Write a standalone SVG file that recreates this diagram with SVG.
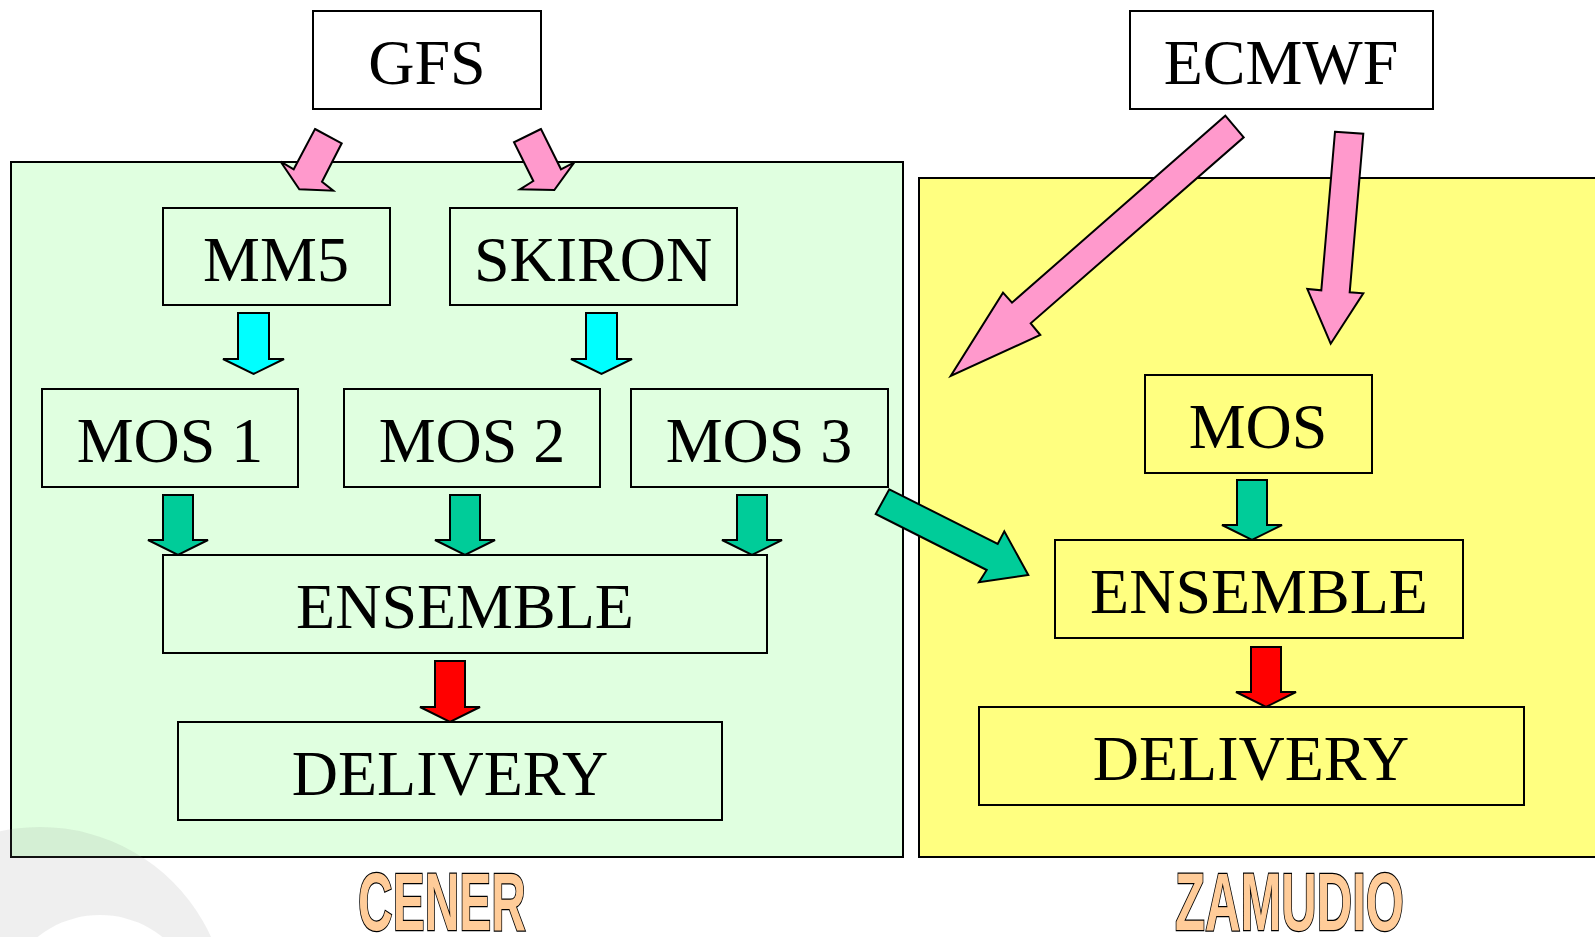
<svg xmlns="http://www.w3.org/2000/svg" width="1595" height="937" viewBox="0 0 1595 937">
<style>
.box{fill:none;stroke:#000;stroke-width:2}
.wbox{fill:#fff;stroke:#000;stroke-width:2}
.lbl{font-family:"Liberation Serif","Times New Roman",serif;font-size:64px;fill:#000;text-anchor:middle}
.big{font-family:"Liberation Sans",Arial,sans-serif;font-weight:bold;font-size:82px;fill:#FFCC99;stroke:#000;stroke-width:2.5;paint-order:stroke fill;text-anchor:start}
.ar{stroke:#000;stroke-width:2;stroke-linejoin:miter}
.pink{fill:#FF99CC}
.cyan{fill:#00FFFF}
.teal{fill:#00CC99}
.red{fill:#FF0000}
</style>
<rect width="1595" height="937" fill="#fff"/>
<g id="region-cener">
<rect x="11" y="162" width="892" height="695" fill="#E0FFE0" stroke="#000" stroke-width="2"/>
</g>
<g id="region-zamudio">
<rect x="919" y="178" width="690" height="679" fill="#FFFF80" stroke="#000" stroke-width="2"/>
</g>
<path id="watermark" d="M40,827 a188,188 0 1,0 0.01,0 Z M100,915 a100,100 0 1,1 -0.01,0 Z" fill="#808080" fill-opacity="0.13" fill-rule="evenodd"/>
<g id="gfs"><rect class="wbox" x="313" y="11" width="228" height="98"/><text class="lbl" x="427" y="84">GFS</text></g>
<g id="ecmwf"><rect class="wbox" x="1130" y="11" width="303" height="98"/><text class="lbl" x="1281" y="84">ECMWF</text></g>
<g id="mm5"><rect class="box" x="163" y="208" width="227" height="97"/><text class="lbl" x="276" y="281">MM5</text></g>
<g id="skiron"><rect class="box" x="450" y="208" width="287" height="97"/><text class="lbl" x="593" y="281">SKIRON</text></g>
<g id="mos1"><rect class="box" x="42" y="389" width="256" height="98"/><text class="lbl" x="170" y="462">MOS 1</text></g>
<g id="mos2"><rect class="box" x="344" y="389" width="256" height="98"/><text class="lbl" x="472" y="462">MOS 2</text></g>
<g id="mos3"><rect class="box" x="631" y="389" width="257" height="98"/><text class="lbl" x="759" y="462">MOS 3</text></g>
<g id="ensemble-cener"><rect class="box" x="163" y="555" width="604" height="98"/><text class="lbl" x="465" y="628">ENSEMBLE</text></g>
<g id="delivery-cener"><rect class="box" x="178" y="722" width="544" height="98"/><text class="lbl" x="450" y="795">DELIVERY</text></g>
<g id="mos-zamudio"><rect class="box" x="1145" y="375" width="227" height="98"/><text class="lbl" x="1258" y="448">MOS</text></g>
<g id="ensemble-zamudio"><rect class="box" x="1055" y="540" width="408" height="98"/><text class="lbl" x="1259" y="613">ENSEMBLE</text></g>
<g id="delivery-zamudio"><rect class="box" x="979" y="707" width="545" height="98"/><text class="lbl" x="1251" y="780">DELIVERY</text></g>
<g id="label-cener"><text class="big" x="358" y="930" textLength="168" lengthAdjust="spacingAndGlyphs">CENER</text></g>
<g id="label-zamudio"><text class="big" x="1175" y="930" textLength="229" lengthAdjust="spacingAndGlyphs">ZAMUDIO</text></g>
<g id="connectors">
<polygon class="ar pink" points="315,129 341.7,143.3 322,181.7 333.3,190.7 299.3,189.3 280.7,161.7 293.7,169.3"/>
<polygon class="ar pink" points="541,129 514,142.3 533.3,181 520,189.3 554.3,190 574.3,162.3 561,169.3"/>
<polygon class="ar pink" points="1225.3,115.7 1243.7,137.3 1030.7,323.3 1040.3,335 950.7,376 1003,292.7 1012,302.7"/>
<polygon class="ar pink" points="1335,131.7 1363.3,133.7 1349.7,292.3 1363.3,293.3 1330.7,343.7 1307.3,289 1321.3,290.3"/>
<polygon class="ar cyan" points="238,313 269,313 269,359 284,359 253.5,374 223,359 238,359"/>
<polygon class="ar cyan" points="586,313 617,313 617,359 632,359 601.5,374 571,359 586,359"/>
<polygon class="ar teal" points="163,495 193,495 193,540 208,540 178,555 148,540 163,540"/>
<polygon class="ar teal" points="450,495 480,495 480,540 495,540 465,555 435,540 450,540"/>
<polygon class="ar teal" points="737,495 767,495 767,540 782,540 752,555 722,540 737,540"/>
<polygon class="ar red" points="435,661 465,661 465,707 480,707 450,722 420,707 435,707"/>
<polygon class="ar teal" points="1237,480 1267,480 1267,525 1282,525 1252,540 1222,525 1237,525"/>
<polygon class="ar red" points="1251,647 1281,647 1281,692 1296,692 1266,707 1236,692 1251,692"/>
<polygon class="ar teal" points="889.3,489.3 997.7,544 1004.3,531.3 1028.3,575 979,582.3 986.7,570 875.7,514"/>
</g>
</svg>
